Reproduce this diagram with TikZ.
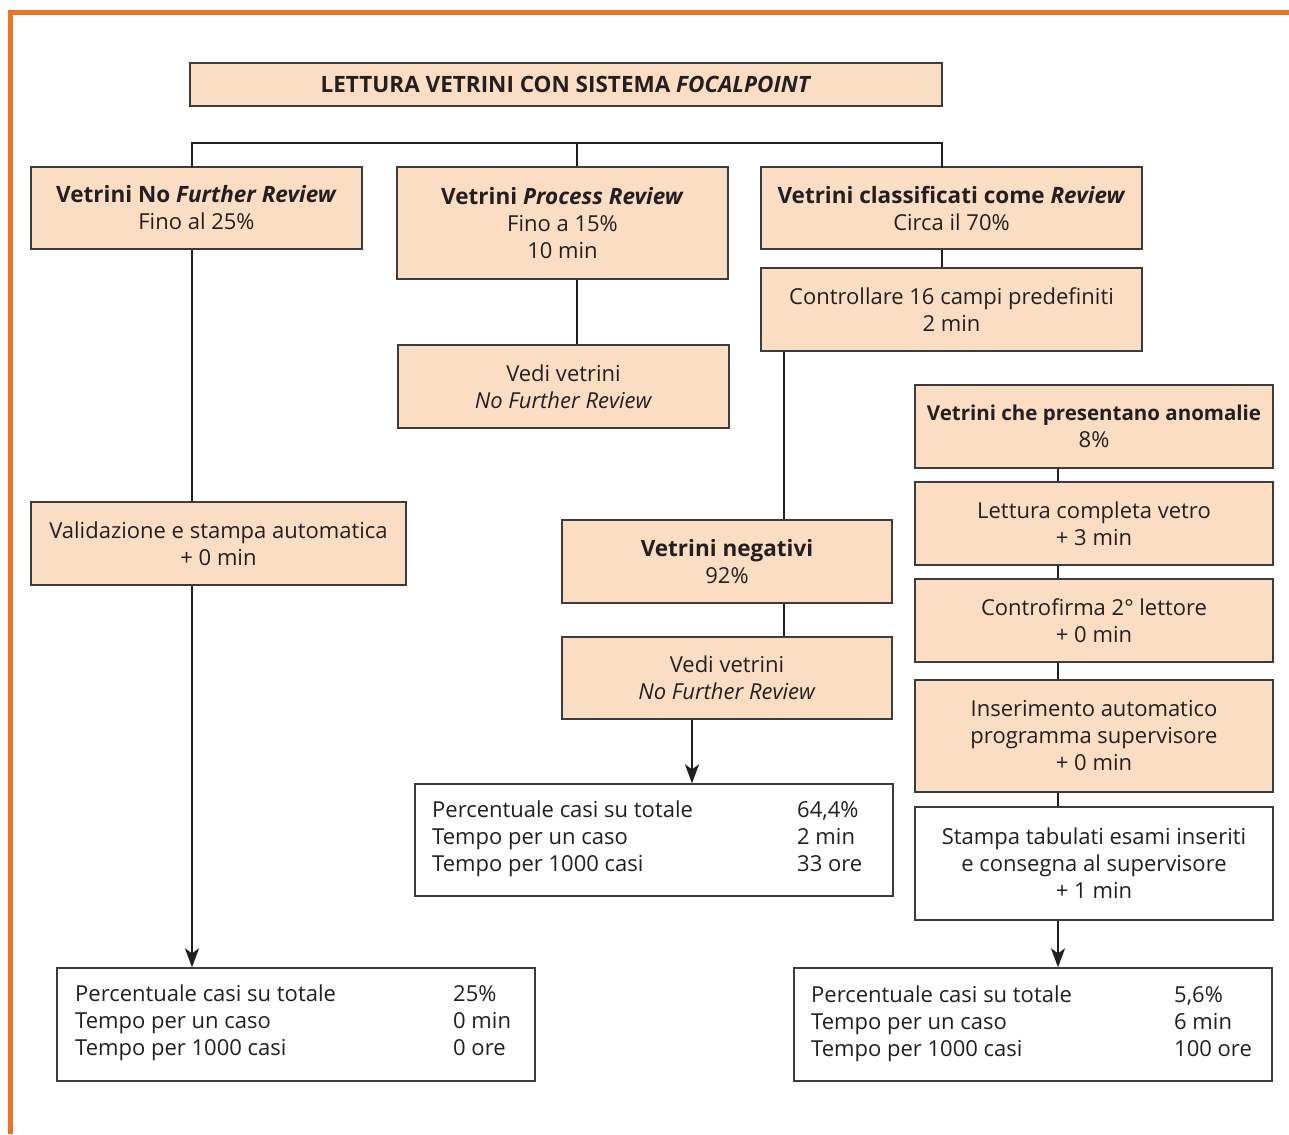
\documentclass[tikz,border=0pt]{standalone}
\usepackage{fontspec}
\setmainfont{Open Sans}
\usetikzlibrary{arrows.meta}
\definecolor{peach}{RGB}{251,221,196}
\definecolor{orng}{RGB}{236,114,36}
\definecolor{edgec}{RGB}{60,60,60}
\definecolor{ink}{RGB}{35,31,32}
\newcommand{\hd}[1]{{\fontsize{22.5}{27}\selectfont\bfseries #1}}
\begin{document}
\begin{tikzpicture}[x=1pt,y=-1pt,
 box/.style={draw=edgec, line width=1.3pt, fill=peach, align=center, inner sep=0pt, font=\fontsize{22}{27}\selectfont, text=ink},
 wbox/.style={box, fill=white},
 restext/.style={anchor=north west, inner sep=0pt, font=\fontsize{22}{27}\selectfont, text=ink},
 conn/.style={line width=2.4pt, draw=ink},
 arr/.style={conn, -{Stealth[length=19pt,width=14pt,inset=5pt]}},
]
\useasboundingbox (0,0) rectangle (1289,1134);
% orange frame
\draw[orng, line width=5pt] (10.8,1134) -- (10.8,12.7) -- (1289,12.7);

% title
\node[box, minimum width=752pt, minimum height=43pt] (title) at (566,84.5)
  {\fontsize{22.5}{27}\selectfont\bfseries LETTURA VETRINI CON SISTEMA \textit{FOCALPOINT}};

% top level boxes
\node[box, minimum width=331pt, minimum height=82pt] (A) at (196.5,208)
  {\hd{Vetrini No \textit{Further Review}}\\Fino al 25\%};
\node[box, minimum width=331pt, minimum height=112pt] (B) at (562.5,223)
  {\hd{Vetrini \textit{Process Review}}\\Fino a 15\%\\10 min};
\node[box, minimum width=381pt, minimum height=82pt] (C) at (951.5,208)
  {\hd{Vetrini classificati come \textit{Review}}\\Circa il 70\%};

\node[box, minimum width=381pt, minimum height=83pt] (C2) at (951.5,309.5)
  {Controllare 16 campi predefiniti\\2 min};
\node[box, minimum width=331pt, minimum height=83pt] (B2) at (563.5,386.5)
  {Vedi vetrini\\\textit{No Further Review}};
\node[box, minimum width=375pt, minimum height=83pt] (A2) at (218.5,543.5)
  {Validazione e stampa automatica\\+ 0 min};

\node[box, minimum width=330pt, minimum height=83pt] (N) at (727,561.5)
  {\hd{Vetrini negativi}\\92\%};
\node[box, minimum width=330pt, minimum height=82pt] (N2) at (727,678)
  {Vedi vetrini\\\textit{No Further Review}};

% right column
\node[box, minimum width=358pt, minimum height=83pt] (R1) at (1094,426.5)
  {{\fontsize{20.5}{27}\selectfont\bfseries Vetrini che presentano anomalie}\\8\%};
\node[box, minimum width=358pt, minimum height=83pt] (R2) at (1094,523.5)
  {Lettura completa vetro\\+ 3 min};
\node[box, minimum width=358pt, minimum height=83pt] (R3) at (1094,620.5)
  {Controfirma 2° lettore\\+ 0 min};
\node[box, minimum width=358pt, minimum height=112pt] (R4) at (1094,736)
  {Inserimento automatico\\programma supervisore\\+ 0 min};
\node[wbox, minimum width=358pt, minimum height=113pt] (R5) at (1094,863.5)
  {Stampa tabulati esami inseriti\\e consegna al supervisore\\+ 1 min};

% result boxes
\node[wbox, minimum width=478pt, minimum height=112pt] (M) at (654,840) {};
\node[restext] (Mt) at (432,798) {\begin{tabular}{@{}p{365pt}@{}l@{}}
Percentuale casi su totale & 64,4\%\\ Tempo per un caso & 2 min\\ Tempo per 1000 casi & 33 ore\end{tabular}};
\node[wbox, minimum width=478pt, minimum height=113pt] (L) at (296,1024.5) {};
\node[restext] (Lt) at (75,982) {\begin{tabular}{@{}p{378pt}@{}l@{}}
Percentuale casi su totale & 25\%\\ Tempo per un caso & 0 min\\ Tempo per 1000 casi & 0 ore\end{tabular}};
\node[wbox, minimum width=478pt, minimum height=113pt] (R) at (1033,1024.5) {};
\node[restext] (Rt) at (811,983) {\begin{tabular}{@{}p{363pt}@{}l@{}}
Percentuale casi su totale & 5,6\%\\ Tempo per un caso & 6 min\\ Tempo per 1000 casi & 100 ore\end{tabular}};

% connector coordinates
\coordinate (bl) at (192,143);
\coordinate (bm) at (577,143);
\coordinate (br) at (942,143);
\coordinate (xn) at (784,0);
\coordinate (xm) at (692,0);
\coordinate (xr) at (1058,0);

% bracket
\draw[conn, line cap=rect] (bl |- A.north) -- (bl) -- (br) -- (br |- C.north);
\draw[conn] (bm) -- (bm |- B.north);

% left column
\draw[conn] (bl |- A.south) -- (bl |- A2.north);
\draw[arr] (bl |- A2.south) -- (bl |- L.north);

% middle column
\draw[conn] (bm |- B.south) -- (bm |- B2.north);

% right branch
\draw[conn] (br |- C.south) -- (br |- C2.north);
\draw[conn] (xn |- C2.south) -- (xn |- N.north);
\draw[conn] (xn |- N.south) -- (xn |- N2.north);
\draw[arr] (xm |- N2.south) -- (xm |- M.north);

\draw[conn] (xr |- R1.south) -- (xr |- R2.north);
\draw[conn] (xr |- R2.south) -- (xr |- R3.north);
\draw[conn] (xr |- R3.south) -- (xr |- R4.north);
\draw[conn] (xr |- R4.south) -- (xr |- R5.north);
\draw[arr] (xr |- R5.south) -- (xr |- R.north);
\end{tikzpicture}
\end{document}
